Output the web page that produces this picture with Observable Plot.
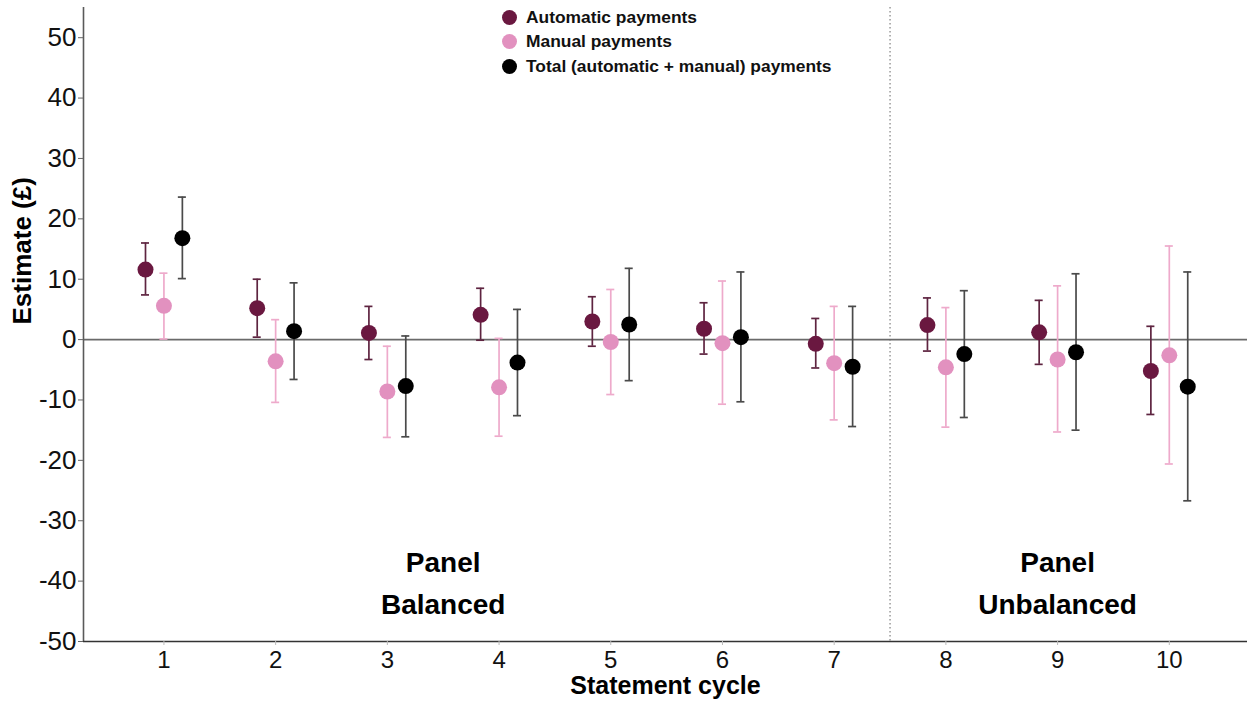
<!DOCTYPE html>
<html>
<head>
<meta charset="utf-8">
<script src="https://cdn.jsdelivr.net/npm/d3@7"></script>
<script src="https://cdn.jsdelivr.net/npm/@observablehq/plot@0.6"></script>
<style>
  body { margin: 0; background: #fff; font-family: "Liberation Sans", Arial, sans-serif; }
  #wrap { position: relative; width: 1250px; height: 704px; }
  #legend { position: absolute; left: 502px; top: 5px; font-weight: bold; font-size: 17.4px; color: #111; }
  #legend div { display: flex; align-items: center; height: 24.5px; }
  #legend span.sw { display: inline-block; width: 15px; height: 15px; border-radius: 50%; margin-right: 9px; }
</style>
</head>
<body>
<div id="wrap"><div id="legend"></div></div>
<script>
// ---- data ----
const cycles = [1, 2, 3, 4, 5, 6, 7, 8, 9, 10];
const seriesNames = ["Automatic payments", "Manual payments", "Total (automatic + manual) payments"];

const autoEst = [11.6, 5.2, 1.1, 4.1, 3.0, 1.8, -0.7, 2.4, 1.2, -5.2];
const autoLo  = [7.4, 0.4, -3.3, -0.1, -1.1, -2.4, -4.7, -1.9, -4.1, -12.4];
const autoHi  = [16.0, 10.0, 5.5, 8.5, 7.1, 6.1, 3.5, 6.9, 6.5, 2.2];

const manualEst = [5.6, -3.6, -8.6, -7.9, -0.4, -0.6, -3.9, -4.6, -3.3, -2.6];
const manualLo  = [0.1, -10.4, -16.2, -16.0, -9.1, -10.7, -13.3, -14.5, -15.3, -20.6];
const manualHi  = [11.0, 3.3, -1.1, 0.2, 8.3, 9.7, 5.5, 5.3, 8.9, 15.5];

const totalEst = [16.8, 1.4, -7.7, -3.8, 2.5, 0.4, -4.5, -2.4, -2.1, -7.8];
const totalLo  = [10.1, -6.6, -16.1, -12.6, -6.8, -10.3, -14.4, -12.9, -15.0, -26.7];
const totalHi  = [23.6, 9.4, 0.6, 5.0, 11.8, 11.2, 5.5, 8.1, 10.9, 11.2];

const yTicks = [-50, -40, -30, -20, -10, 0, 10, 20, 30, 40, 50];
const panelDivider = 7.5;
const panelLabels = [
  {x: 3.5, y: -37.0, text: "Panel"},
  {x: 3.5, y: -44.0, text: "Balanced"},
  {x: 9.0, y: -37.0, text: "Panel"},
  {x: 9.0, y: -44.0, text: "Unbalanced"}
];

// ---- styling / layout ----
const xDomain = [0.28, 10.7];
const yDomain = [-50, 55];
const dodge = [-0.165, 0, 0.165];
const capHalf = 0.036;
const dotColors = ["#6a1840", "#e291bf", "#000000"];
const barColors = ["#5e2440", "#eeaacb", "#4a4a4a"];

const est = [autoEst, manualEst, totalEst];
const lo = [autoLo, manualLo, totalLo];
const hi = [autoHi, manualHi, totalHi];
const rows = [];
seriesNames.forEach((s, si) => {
  cycles.forEach((c, i) => {
    rows.push({series: s, si, x: c + dodge[si], est: est[si][i], lo: lo[si][i], hi: hi[si][i]});
  });
});

const font = "'Liberation Sans', Arial, sans-serif";

const chart = Plot.plot({
  width: 1250,
  height: 704,
  marginLeft: 83,
  marginRight: 3,
  marginTop: 7,
  marginBottom: 63,
  style: {fontFamily: font, background: "white", color: "#111"},
  x: {domain: xDomain},
  y: {domain: yDomain},
  marks: [
    Plot.ruleY([0], {stroke: "#6a6a6a", strokeWidth: 1.6}),
    Plot.ruleX([panelDivider], {stroke: "#666", strokeDasharray: "1.5,2.5", strokeWidth: 1}),
    Plot.ruleX(rows, {x: "x", y1: "lo", y2: "hi", stroke: d => barColors[d.si], strokeWidth: 1.7}),
    Plot.ruleY(rows, {y: "lo", x1: d => d.x - capHalf, x2: d => d.x + capHalf, stroke: d => barColors[d.si], strokeWidth: 1.7}),
    Plot.ruleY(rows, {y: "hi", x1: d => d.x - capHalf, x2: d => d.x + capHalf, stroke: d => barColors[d.si], strokeWidth: 1.7}),
    Plot.dot(rows, {x: "x", y: "est", r: 8, fill: d => dotColors[d.si], stroke: "none"}),
    Plot.text(panelLabels, {x: "x", y: "y", text: "text", fontSize: 28, fontWeight: "bold", fill: "#000", lineAnchor: "middle"}),
    Plot.ruleX([xDomain[0]], {stroke: "#5a5a5a", strokeWidth: 1.6}),
    Plot.ruleY([yDomain[0]], {stroke: "#333", strokeWidth: 1.6}),
    Plot.axisY({ticks: yTicks, tickFormat: d => String(d), tickSize: 5, tickPadding: 2, fontSize: 26, label: null, stroke: "#666", fill: "#111"}),
    Plot.axisX({ticks: cycles, tickFormat: d => String(d), tickSize: 4, tickPadding: 5, fontSize: 24, label: null, stroke: "#bbb", fill: "#111"}),
    Plot.text(["Estimate (£)"], {frameAnchor: "left", rotate: -90, dx: -61, fontSize: 26, fontWeight: "bold", fill: "#000"}),
    Plot.text(["Statement cycle"], {frameAnchor: "bottom", dy: 44, fontSize: 25, fontWeight: "bold", fill: "#000", lineAnchor: "middle"})
  ]
});

const wrap = document.getElementById("wrap");
wrap.insertBefore(chart, wrap.firstChild);

const legend = document.getElementById("legend");
seriesNames.forEach((s, si) => {
  const row = document.createElement("div");
  const sw = document.createElement("span");
  sw.className = "sw";
  sw.style.background = dotColors[si];
  row.appendChild(sw);
  row.appendChild(document.createTextNode(s));
  legend.appendChild(row);
});
</script>
</body>
</html>
